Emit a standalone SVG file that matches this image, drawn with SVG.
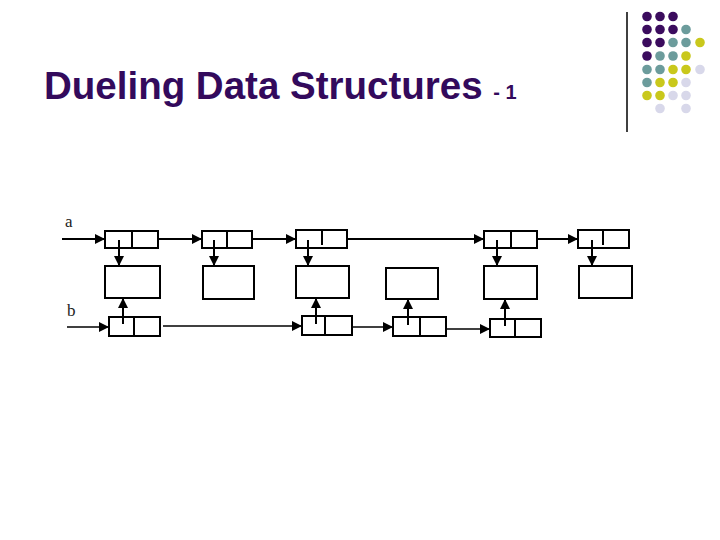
<svg xmlns="http://www.w3.org/2000/svg" width="720" height="540" viewBox="0 0 720 540">
<defs>
<style>
.title{font-family:"Liberation Sans",Arial,sans-serif;font-weight:bold;fill:#330a5c}
.lbl{font-family:"Liberation Serif","Times New Roman",serif;font-size:17px;fill:#222}
.box{fill:#fff;stroke:#000;stroke-width:2}
.div{stroke:#000;stroke-width:2}
.ln{stroke:#000;stroke-width:2;fill:none}
.lnb{stroke:#000;stroke-width:1.6;fill:none}
.p{fill:#3b0c5e}.t{fill:#6c9c9c}.y{fill:#c9c81c}.l{fill:#d8d8ea}
</style>
<marker id="ah" viewBox="0 0 10 10" refX="10" refY="5" markerWidth="10" markerHeight="10" markerUnits="userSpaceOnUse" orient="auto">
<path d="M0,0 L10,5 L0,10 z" fill="#000"/>
</marker>
</defs>
<rect width="720" height="540" fill="#fff"/>
<g id="title">
<text class="title" x="44" y="99" font-size="38.5">Dueling Data Structures <tspan font-size="20">- 1</tspan></text>
</g>
<g id="decor">
<line x1="627" y1="12" x2="627" y2="132" stroke="#000" stroke-width="1.5"/>
<circle class="p" cx="647" cy="16.5" r="4.8"/><circle class="p" cx="660" cy="16.5" r="4.8"/><circle class="p" cx="673" cy="16.5" r="4.8"/>
<circle class="p" cx="647" cy="29.5" r="4.8"/><circle class="p" cx="660" cy="29.5" r="4.8"/><circle class="p" cx="673" cy="29.5" r="4.8"/><circle class="t" cx="686" cy="29.5" r="4.8"/>
<circle class="p" cx="647" cy="42.5" r="4.8"/><circle class="p" cx="660" cy="42.5" r="4.8"/><circle class="t" cx="673" cy="42.5" r="4.8"/><circle class="t" cx="686" cy="42.5" r="4.8"/><circle class="y" cx="700" cy="42.5" r="4.8"/>
<circle class="p" cx="647" cy="56" r="4.8"/><circle class="t" cx="660" cy="56" r="4.8"/><circle class="t" cx="673" cy="56" r="4.8"/><circle class="y" cx="686" cy="56" r="4.8"/>
<circle class="t" cx="647" cy="69.5" r="4.8"/><circle class="t" cx="660" cy="69.5" r="4.8"/><circle class="y" cx="673" cy="69.5" r="4.8"/><circle class="y" cx="686" cy="69.5" r="4.8"/><circle class="l" cx="700" cy="69.5" r="4.8"/>
<circle class="t" cx="647" cy="82.5" r="4.8"/><circle class="y" cx="660" cy="82.5" r="4.8"/><circle class="y" cx="673" cy="82.5" r="4.8"/><circle class="l" cx="686" cy="82.5" r="4.8"/>
<circle class="y" cx="647" cy="95.5" r="4.8"/><circle class="y" cx="660" cy="95.5" r="4.8"/><circle class="l" cx="673" cy="95.5" r="4.8"/><circle class="l" cx="686" cy="95.5" r="4.8"/>
<circle class="l" cx="660" cy="108.5" r="4.8"/><circle class="l" cx="686" cy="108.5" r="4.8"/>
</g>
<g id="labels">
<text class="lbl" x="65" y="227">a</text>
<text class="lbl" x="67" y="316">b</text>
</g>
<g id="n1"><rect class="box" x="105" y="231" width="53" height="17"/><line class="div" x1="132" y1="231" x2="132" y2="248"/></g>
<g id="n2"><rect class="box" x="202" y="231" width="50" height="17"/><line class="div" x1="227" y1="231" x2="227" y2="248"/></g>
<g id="n3"><rect class="box" x="296" y="230" width="51" height="18"/><line class="div" x1="322" y1="230" x2="322" y2="245"/></g>
<g id="n4"><rect class="box" x="484" y="231" width="53" height="17"/><line class="div" x1="511" y1="231" x2="511" y2="248"/></g>
<g id="n5"><rect class="box" x="578" y="230" width="51" height="18"/><line class="div" x1="603" y1="230" x2="603" y2="245"/></g>
<g id="d1"><rect class="box" x="105" y="266" width="55" height="32"/></g>
<g id="d2"><rect class="box" x="203" y="266" width="51" height="33"/></g>
<g id="d3"><rect class="box" x="296" y="266" width="53" height="32"/></g>
<g id="d4"><rect class="box" x="386" y="268" width="52" height="31"/></g>
<g id="d5"><rect class="box" x="484" y="266" width="53" height="33"/></g>
<g id="d6"><rect class="box" x="579" y="266" width="53" height="32"/></g>
<g id="b1"><rect class="box" x="109" y="317" width="51" height="19"/><line class="div" x1="134" y1="317" x2="134" y2="336"/></g>
<g id="b2"><rect class="box" x="302" y="316" width="50" height="19"/><line class="div" x1="325" y1="316" x2="325" y2="335"/></g>
<g id="b3"><rect class="box" x="393" y="317" width="53" height="19"/><line class="div" x1="420" y1="317" x2="420" y2="336"/></g>
<g id="b4"><rect class="box" x="490" y="319" width="51" height="18"/><line class="div" x1="515" y1="319" x2="515" y2="337"/></g>
<g id="connectors">
<line class="ln" x1="62" y1="239" x2="105" y2="239" marker-end="url(#ah)"/>
<line class="ln" x1="158" y1="239" x2="202" y2="239" marker-end="url(#ah)"/>
<line class="ln" x1="252" y1="239" x2="296" y2="239" marker-end="url(#ah)"/>
<line class="ln" x1="347" y1="239" x2="484" y2="239" marker-end="url(#ah)"/>
<line class="ln" x1="537" y1="239" x2="578" y2="239" marker-end="url(#ah)"/>
<line class="ln" x1="119" y1="240" x2="119" y2="266" marker-end="url(#ah)"/>
<line class="ln" x1="214" y1="240" x2="214" y2="266" marker-end="url(#ah)"/>
<line class="ln" x1="308" y1="240" x2="308" y2="266" marker-end="url(#ah)"/>
<line class="ln" x1="497" y1="240" x2="497" y2="266" marker-end="url(#ah)"/>
<line class="ln" x1="592" y1="240" x2="592" y2="266" marker-end="url(#ah)"/>
<line class="lnb" x1="67" y1="327" x2="109" y2="327" marker-end="url(#ah)"/>
<line class="lnb" x1="163" y1="326" x2="302" y2="326" marker-end="url(#ah)"/>
<line class="lnb" x1="352" y1="327" x2="393" y2="327" marker-end="url(#ah)"/>
<line class="lnb" x1="446" y1="329" x2="490" y2="329" marker-end="url(#ah)"/>
<line class="ln" x1="123" y1="324" x2="123" y2="298" marker-end="url(#ah)"/>
<line class="ln" x1="316" y1="324" x2="316" y2="298" marker-end="url(#ah)"/>
<line class="ln" x1="408" y1="325" x2="408" y2="299" marker-end="url(#ah)"/>
<line class="ln" x1="505" y1="326" x2="505" y2="299" marker-end="url(#ah)"/>
</g>
</svg>
